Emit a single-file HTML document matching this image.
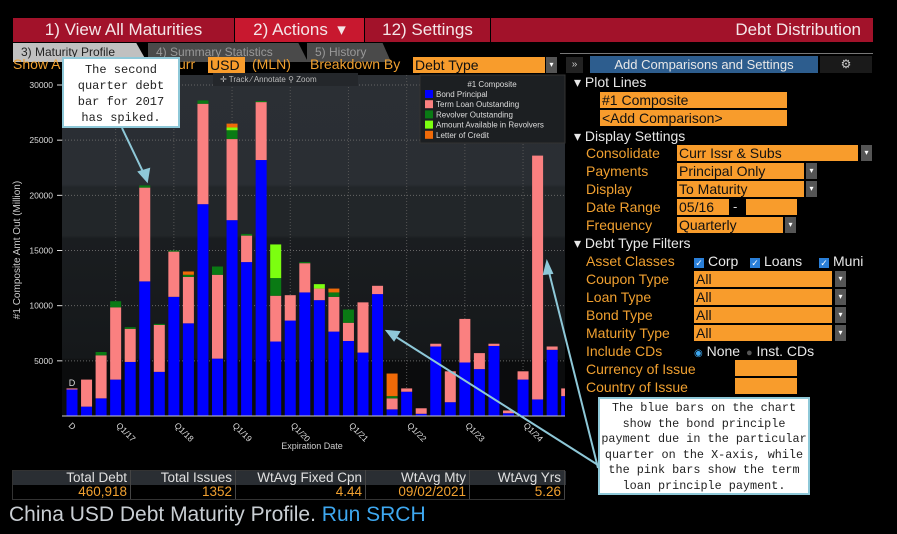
<!DOCTYPE html>
<html><head><meta charset="utf-8"><style>
*{box-sizing:border-box;margin:0;padding:0}
body{width:897px;height:534px;background:#000;position:relative;overflow:hidden;font-family:"Liberation Sans","DejaVu Sans",sans-serif}
.a{position:absolute;white-space:nowrap}
.btn{position:absolute;top:18px;height:24px;color:#f4e6e8;font-size:17px;line-height:24px;text-align:center}
.tab{position:absolute;top:43px;height:19px;font-size:12px;line-height:19px;padding-left:8px}
.lab{color:#f0a030;font-size:14px}
.ob{position:absolute;background:#f89c2c;color:#111;font-size:14px;line-height:16px;padding-left:2px;height:16px}
.dd{position:absolute;background:#555;height:16px;width:11px;color:#fff;font-size:8px;text-align:center;line-height:16px}
.hd{color:#e8e8e8;font-size:14px}
.chk{display:inline-block;width:10px;height:10px;background:#2a7fd8;color:#fff;font-size:9px;line-height:10px;text-align:center;margin-right:4px}
</style></head><body>
<div class="btn" style="left:13px;width:221px;background:#a2122a">1) View All Maturities</div>
<div class="btn" style="left:235px;width:129px;background:#c8182f">2) Actions &nbsp;▾</div>
<div class="btn" style="left:365px;width:125px;background:#a2122a">12) Settings</div>
<div class="btn" style="left:491px;width:382px;background:#a2122a;text-align:right;padding-right:12px">Debt Distribution</div>
<div class="tab" style="left:13px;width:134px;background:#c0c0c0;color:#222;clip-path:polygon(0 0,92% 0,100% 100%,0 100%)">3) Maturity Profile</div>
<div class="tab" style="left:148px;width:160px;background:#4a4a4a;color:#999;clip-path:polygon(0 0,94% 0,100% 100%,0 100%)">4) Summary Statistics</div>
<div class="tab" style="left:307px;width:84px;background:#4a4a4a;color:#999;clip-path:polygon(0 0,90% 0,100% 100%,0 100%)">5) History</div>
<div class="a" style="left:560px;top:53px;width:313px;height:1px;background:#777"></div>
<div class="a lab" style="left:13px;top:56px">Show A</div>
<div class="a lab" style="left:178px;top:56px">urr</div>
<div class="ob" style="left:208px;top:57px;width:37px">USD</div>
<div class="a lab" style="left:252px;top:56px">(MLN)</div>
<div class="a lab" style="left:310px;top:56px">Breakdown By</div>
<div class="ob" style="left:413px;top:57px;width:132px">Debt Type</div>
<div class="dd" style="left:546px;top:57px">▾</div>
<div class="a" style="left:566px;top:57px;width:17px;height:16px;background:#222;color:#ccc;font-size:10px;text-align:center;line-height:16px">»</div>
<div class="a" style="left:590px;top:56px;width:228px;height:17px;background:#2d5d8e;color:#e8e8e8;font-size:13px;text-align:center;line-height:17px">Add Comparisons and Settings</div>
<div class="a" style="left:820px;top:56px;width:52px;height:17px;background:#1a1a1a;color:#ccc;font-size:12px;text-align:center;line-height:17px">⚙</div>

<div class="a hd" style="left:574px;top:74px">▾ Plot Lines</div>
<div class="ob" style="left:600px;top:92px;width:187px">#1 Composite</div>
<div class="ob" style="left:600px;top:110px;width:187px">&lt;Add Comparison&gt;</div>
<div class="a hd" style="left:574px;top:128px">▾ Display Settings</div>
<div class="a lab" style="left:586px;top:145px">Consolidate</div>
<div class="ob" style="left:677px;top:145px;width:181px">Curr Issr &amp; Subs</div><div class="dd" style="left:861px;top:145px">▾</div>
<div class="a lab" style="left:586px;top:163px">Payments</div>
<div class="ob" style="left:677px;top:163px;width:127px">Principal Only</div><div class="dd" style="left:806px;top:163px">▾</div>
<div class="a lab" style="left:586px;top:181px">Display</div>
<div class="ob" style="left:677px;top:181px;width:127px">To Maturity</div><div class="dd" style="left:806px;top:181px">▾</div>
<div class="a lab" style="left:586px;top:199px">Date Range</div>
<div class="ob" style="left:677px;top:199px;width:52px">05/16</div>
<div class="a" style="left:733px;top:199px;color:#ddd;font-size:13px">-</div>
<div class="ob" style="left:746px;top:199px;width:51px"></div>
<div class="a lab" style="left:586px;top:217px">Frequency</div>
<div class="ob" style="left:677px;top:217px;width:106px">Quarterly</div><div class="dd" style="left:785px;top:217px">▾</div>
<div class="a hd" style="left:574px;top:235px">▾ Debt Type Filters</div>
<div class="a lab" style="left:586px;top:253px">Asset Classes</div>
<div class="a hd" style="left:694px;top:253px"><span class="chk">✓</span>Corp</div>
<div class="a hd" style="left:750px;top:253px"><span class="chk">✓</span>Loans</div>
<div class="a hd" style="left:819px;top:253px"><span class="chk">✓</span>Muni</div>
<div class="a lab" style="left:586px;top:271px">Coupon Type</div>
<div class="ob" style="left:694px;top:271px;width:138px">All</div><div class="dd" style="left:835px;top:271px">▾</div>
<div class="a lab" style="left:586px;top:289px">Loan Type</div>
<div class="ob" style="left:694px;top:289px;width:138px">All</div><div class="dd" style="left:835px;top:289px">▾</div>
<div class="a lab" style="left:586px;top:307px">Bond Type</div>
<div class="ob" style="left:694px;top:307px;width:138px">All</div><div class="dd" style="left:835px;top:307px">▾</div>
<div class="a lab" style="left:586px;top:325px">Maturity Type</div>
<div class="ob" style="left:694px;top:325px;width:138px">All</div><div class="dd" style="left:835px;top:325px">▾</div>
<div class="a lab" style="left:586px;top:343px">Include CDs</div>
<div class="a hd" style="left:694px;top:343px"><span style="color:#3ea8f0;font-size:10px">◉</span> None</div>
<div class="a hd" style="left:746px;top:343px"><span style="color:#555;font-size:11px">●</span> Inst. CDs</div>
<div class="a lab" style="left:586px;top:361px">Currency of Issue</div>
<div class="ob" style="left:735px;top:360px;width:62px"></div>
<div class="a lab" style="left:586px;top:379px">Country of Issue</div>
<div class="ob" style="left:735px;top:378px;width:62px"></div>

<svg class="a" style="left:0;top:0" width="897" height="534" id="chart">
<defs><linearGradient id="bg" x1="0" y1="0" x2="0" y2="1">
<stop offset="0" stop-color="#2b2f34"/><stop offset="0.32" stop-color="#2a2e33"/><stop offset="0.33" stop-color="#222629"/><stop offset="0.47" stop-color="#222629"/><stop offset="0.48" stop-color="#1a1d20"/><stop offset="0.83" stop-color="#15181a"/><stop offset="0.84" stop-color="#0b0c0d"/><stop offset="1" stop-color="#0b0c0d"/></linearGradient></defs>
<rect x="62" y="75" width="503" height="341" fill="url(#bg)"/>
<g id="grid"></g><g id="bars"></g><g id="axes"></g>
<text x="20" y="250" fill="#ccc" font-size="10" text-anchor="middle" transform="rotate(-90 20 250)">#1 Composite Amt Out (Million)</text>
<text x="312" y="449" fill="#ccc" font-size="9" text-anchor="middle">Expiration Date</text>
<text x="72" y="386" fill="#ddd" font-size="9" text-anchor="middle">D</text>
<g><rect x="213" y="73" width="145" height="13" fill="#24272b"/><text x="220" y="82" fill="#bbb" font-size="8">✛ Track  ⁄ Annotate  ⚲ Zoom</text></g>
<g><rect x="420" y="75" width="145" height="68" fill="#1c1f22" stroke="#333"/>
<text x="492" y="87" fill="#ddd" font-size="8" text-anchor="middle">#1 Composite</text><g id="leg"></g></g>
</svg>

<div class="a" style="left:62px;top:57px;width:118px;height:71px;background:#fff;border:2px solid #8ec8d8;font-family:'Liberation Mono',monospace;font-size:12px;line-height:16px;text-align:center;color:#222;padding-top:3px;white-space:normal">The second quarter debt bar for 2017 has spiked.</div>
<div class="a" style="left:598px;top:397px;width:212px;height:98px;background:#fff;border:2px solid #8ec8d8;font-family:'Liberation Mono',monospace;font-size:11.8px;line-height:15.5px;text-align:center;color:#222;padding-top:2px;white-space:normal">The blue bars on the chart show the bond principle payment due in the particular quarter on the X-axis, while the pink bars show the term loan principle payment.</div>
<svg class="a" style="left:0;top:0" width="897" height="534">
<g stroke="#8ec8d8" stroke-width="2" fill="#8ec8d8">
<line x1="122" y1="128" x2="145" y2="176"/><polygon points="147,181 139,172 149,169"/>
<line x1="598" y1="465" x2="393" y2="335"/><polygon points="387,331 399,332 394,340"/>
<line x1="598" y1="468" x2="548" y2="268"/><polygon points="547,262 552,273 544,274"/>
</g></svg>

<div class="a" style="left:12px;top:470px;width:553px;height:30px;border:1px solid #333">
<div style="position:absolute;left:0;top:0;width:553px;height:14px;background:#2a2e33"></div>
</div>
<div id="stats"></div>
<div class="a" style="left:9px;top:503px;font-size:21px;color:#c9ced3">China USD Debt Maturity Profile. <span style="color:#3ea8f0">Run SRCH</span></div>

<script>
const quarters = ["Q2/16","Q3/16","Q4/16","Q1/17","Q2/17","Q3/17","Q4/17","Q1/18","Q2/18","Q3/18","Q4/18","Q1/19","Q2/19","Q3/19","Q4/19","Q1/20","Q2/20","Q3/20","Q4/20","Q1/21","Q2/21","Q3/21","Q4/21","Q1/22","Q2/22","Q3/22","Q4/22","Q1/23","Q2/23","Q3/23","Q4/23","Q1/24","Q2/24","Q3/24","Q4/24"];
const bondPrincipal = [2.4,0.85,1.6,3.3,4.9,12.2,4.0,10.8,8.4,19.2,5.2,17.75,13.95,23.2,6.75,8.65,11.2,10.5,7.65,6.8,5.75,11.05,0.6,2.2,0.2,6.3,1.25,4.85,4.25,6.35,0.25,3.3,1.5,6.0,1.8];
const termLoan = [0.1,2.45,3.9,6.55,3.0,8.5,4.25,4.1,4.2,9.1,7.6,7.35,2.4,5.25,4.15,2.3,2.65,1.05,3.15,1.65,4.55,0.75,1.0,0.3,0.5,0.25,2.8,3.95,1.45,0.2,0.25,0.75,22.1,0.3,0.7];
const revolver = [0,0,0.3,0.55,0.15,0.2,0.1,0.1,0.2,0.3,0.75,0.8,0.15,0.1,1.6,0,0.1,0,0.4,1.2,0,0,0.2,0,0,0,0,0,0,0,0,0,0,0,0];
const availRevolver = [0,0,0,0,0,0,0,0,0,0,0,0.25,0,0,3.05,0,0,0.4,0,0,0,0,0,0,0,0,0,0,0,0,0,0,0,0,0];
const letterCredit = [0,0,0,0,0,0,0,0,0.3,0,0,0.35,0,0,0,0,0,0,0.35,0,0,0,2.05,0,0,0,0,0,0,0,0,0,0,0,0];
const seriesNames = ["Bond Principal","Term Loan Outstanding","Revolver Outstanding","Amount Available in Revolvers","Letter of Credit"];
const seriesColors = ["#0000ff","#fa8080","#0a7a14","#7cff10","#f06a08"];
const yTicks = [5000,10000,15000,20000,25000,30000];
const xLabelIdx = [3,7,11,15,19,23,27,31];
const xLabels = ["Q1/17","Q1/18","Q1/19","Q1/20","Q1/21","Q1/22","Q1/23","Q1/24"];
const statHeads = ["Total Debt","Total Issues","WtAvg Fixed Cpn","WtAvg Mty","WtAvg Yrs"];
const statVals = ["460,918","1352","4.44","09/02/2021","5.26"];

const NS="http://www.w3.org/2000/svg";
const X0=72, STEP=14.55, BW=11, Y0=416, PX=331/30000, PL=62, PR=565;
const xs=i=>X0+i*STEP;
const ys=v=>Y0-v*PX;
function mk(tag,at,parent){const e=document.createElementNS(NS,tag);for(const k in at)e.setAttribute(k,at[k]);parent.appendChild(e);return e;}
const grid=document.getElementById('grid'),bars=document.getElementById('bars'),axes=document.getElementById('axes'),leg=document.getElementById('leg');
yTicks.forEach(t=>{
  const l=mk('line',{x1:PL,x2:PR,y1:ys(t),y2:ys(t),stroke:'#666','stroke-dasharray':'1,2'},grid);
  
  
  const tx=mk('text',{x:PL-9,y:ys(t)+3,fill:'#ddd','font-size':8.5,'text-anchor':'end'},axes);
  tx.textContent=t;
  
  
  mk('line',{x1:PL-5,x2:PL,y1:ys(t),y2:ys(t),stroke:'#ddd'},axes);
});
xLabelIdx.forEach((idx,k)=>{
  const x=xs(idx);
  const l=mk('line',{x1:x,x2:x,y1:75,y2:Y0,stroke:'#555','stroke-dasharray':'1,2'},grid);
  
  
  const tx=mk('text',{x:x,y:Y0+10,fill:'#ddd','font-size':8.5,transform:`rotate(45 ${x} ${Y0+10})`},axes);
  tx.textContent=xLabels[k];
  
  
});
const d0=mk('text',{x:xs(0)-4,y:Y0+10,fill:'#ddd','font-size':8.5,transform:`rotate(45 ${xs(0)-4} ${Y0+10})`},axes);d0.textContent='D';
mk('line',{x1:PL,x2:PR,y1:Y0,y2:Y0,stroke:'#ccc'},axes);
const series=[bondPrincipal,termLoan,revolver,availRevolver,letterCredit];
quarters.forEach((q,i)=>{
  let base=0;
  series.forEach((s,si)=>{
    const v=s[i]*1000;if(!v)return;
    const x=xs(i)-BW/2, w=Math.max(0,Math.min(BW,PR-x));
    const r=mk('rect',{x:x,y:ys(base+v),width:w,height:v*PX,fill:seriesColors[si]},bars);
    
    
    base+=v;
  });
});
seriesNames.forEach((n,i)=>{
  const r=mk('rect',{x:425,y:90+i*10.2,width:8,height:8,fill:seriesColors[i]},leg);
  
  
  const t=mk('text',{x:436,y:97+i*10.2,fill:'#ddd','font-size':8},leg);
  t.textContent=n;
  
  
});
const cols=[[12,131],[131,236],[236,366],[366,470],[470,565]];
const st=document.getElementById('stats');
cols.forEach((c,i)=>{
  const h=document.createElement('div');h.className='a';
  h.style.cssText=`left:${c[0]}px;top:470px;width:${c[1]-c[0]}px;text-align:right;padding-right:3px;font-size:13.5px;line-height:15px;color:#e0e0e0;border-right:1px solid #444`;
  h.textContent=statHeads[i];
  
  
  st.appendChild(h);
  const v=document.createElement('div');v.className='a';
  v.style.cssText=`left:${c[0]}px;top:484px;width:${c[1]-c[0]}px;text-align:right;padding-right:3px;font-size:13.5px;line-height:15px;color:#f0a030;border-right:1px solid #444`;
  v.textContent=statVals[i];
  
  
  st.appendChild(v);
});
</script>
</body></html>
